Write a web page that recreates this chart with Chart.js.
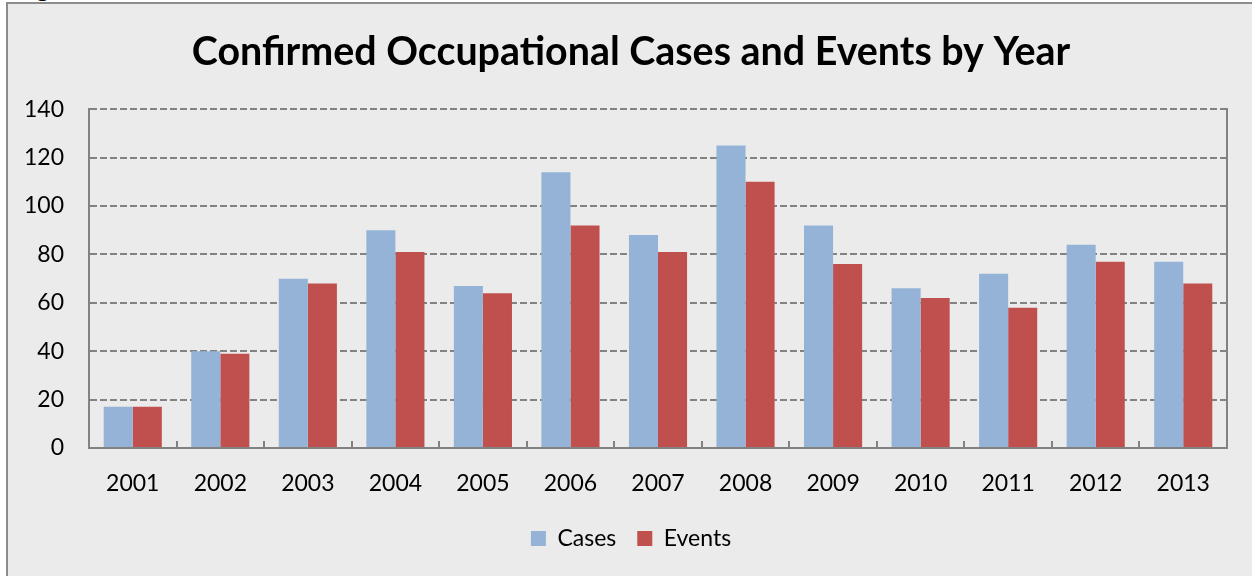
<!DOCTYPE html>
<html>
<head>
<meta charset="utf-8">
<script src="https://cdn.jsdelivr.net/npm/chart.js"></script>
<style>
  html, body { margin: 0; padding: 0; background: #fff; overflow: hidden; }
  #frame {
    position: absolute; left: 6px; top: 2px;
    width: 1246px; height: 574px;
    background: #ebebeb;
    border-left: 2px solid #8c8c8c;
    border-top: 2px solid #8c8c8c;
  }
  #stray {
    position: absolute; left: 36px; top: -27px;
    font: 26px "Liberation Serif", serif; color: #000;
  }
  canvas { display: block; }
</style>
</head>
<body>
<div id="stray">g</div>
<div id="frame"><canvas id="chart" width="1246" height="574"></canvas></div>
<script>
// data
const years = ['2001','2002','2003','2004','2005','2006','2007','2008','2009','2010','2011','2012','2013'];
const cases = [17, 40, 70, 90, 67, 114, 88, 125, 92, 66, 72, 84, 77];
const events = [17, 39, 68, 81, 64, 92, 81, 110, 76, 62, 58, 77, 68];
const yTicks = [0, 20, 40, 60, 80, 100, 120, 140];

const GRID = '#828282';

// small tick marks between categories, pointing up into the plot
const catTicks = {
    id: 'catTicks',
    afterDatasetsDraw(chart) {
        const ctx = chart.ctx, a = chart.chartArea, x = chart.scales.x;
        ctx.save();
        ctx.strokeStyle = GRID;
        ctx.lineWidth = 2;
        ctx.beginPath();
        for (let i = 1; i < years.length; i++) {
            const px = Math.round((x.getPixelForValue(i - 1) + x.getPixelForValue(i)) / 2);
            ctx.moveTo(px, a.bottom);
            ctx.lineTo(px, a.bottom - 7);
        }
        ctx.stroke();
        ctx.restore();
    }
};

new Chart(document.getElementById('chart'), {
    type: 'bar',
    data: {
        labels: years,
        datasets: [
            { label: 'Cases', data: cases, backgroundColor: '#95b3d7' },
            { label: 'Events', data: events, backgroundColor: '#c0504d' }
        ]
    },
    options: {
        responsive: false,
        animation: false,
        layout: { padding: { left: 10, right: 10, top: 15, bottom: 18 } },
        datasets: { bar: { categoryPercentage: 0.664, barPercentage: 1.0 } },
        scales: {
            x: {
                afterFit(s) { s.height = 58; },
                grid: { display: false, drawTicks: false },
                border: { display: true, color: GRID, width: 2 },
                ticks: { color: '#000', font: { family: 'Lato', size: 23 }, padding: 22 }
            },
            y: {
                min: 0, max: 140,
                afterBuildTicks(s) { s.ticks = yTicks.map(v => ({ value: v })); },
                afterFit(s) { s.width = 71; },
                grid: {
                    drawTicks: false,
                    color: c => c.tick && c.tick.value === 0 ? 'rgba(0,0,0,0)' : GRID,
                    lineWidth: 2
                },
                border: { display: true, color: GRID, width: 2, dash: [7, 3] },
                ticks: { color: '#000', font: { family: 'Lato', size: 23 }, padding: 25 }
            },
            // empty right axis: only draws the right border of the plot
            yRight: {
                position: 'right',
                min: 0, max: 140,
                afterFit(s) { s.width = 17; },
                grid: { display: false, drawTicks: false },
                border: { display: true, color: GRID, width: 2 },
                ticks: { display: false }
            }
        },
        plugins: {
            title: {
                display: true,
                text: 'Confirmed Occupational Cases and Events by Year',
                color: '#000',
                font: { family: 'Lato', size: 39.4, weight: 'bold' },
                padding: { top: 10, bottom: 33 }
            },
            legend: {
                position: 'bottom',
                labels: {
                    color: '#000',
                    font: { family: 'Lato', size: 23 },
                    boxWidth: 15, boxHeight: 15, padding: 21
                }
            },
            tooltip: { enabled: false }
        }
    },
    plugins: [catTicks]
});
</script>
</body>
</html>
